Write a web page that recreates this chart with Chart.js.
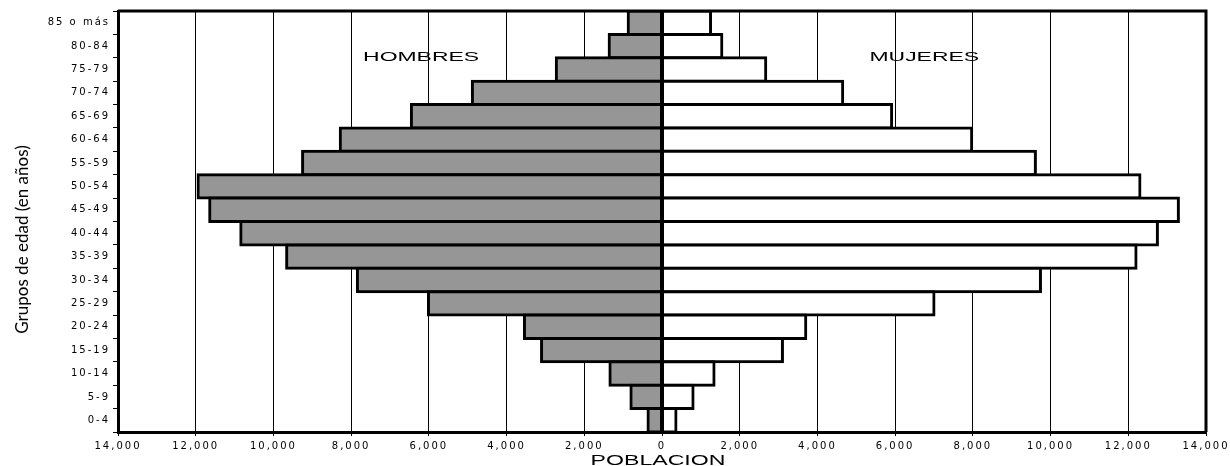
<!DOCTYPE html>
<html>
<head>
<meta charset="utf-8">
<script src="https://cdn.jsdelivr.net/npm/chart.js@4.4.0/dist/chart.umd.min.js"></script>
<style>
    html, body { margin: 0; padding: 0; background: #fff; }
    #wrap { width: 1230px; height: 466px; }
</style>
</head>
<body>
<div id="wrap"><canvas id="pyramidChart" width="1230" height="466"></canvas></div>
<script>
// Age groups, top row first
const ageGroups = ['85 o más', '80-84', '75-79', '70-74', '65-69', '60-64', '55-59', '50-54', '45-49',
    '40-44', '35-39', '30-34', '25-29', '20-24', '15-19', '10-14', '5-9', '0-4'];
const hombres = [870, 1360, 2720, 4880, 6450, 8280, 9250, 11940, 11640,
    10840, 9660, 7840, 6010, 3540, 3100, 1340, 800, 360];
const mujeres = [1250, 1540, 2670, 4650, 5910, 7970, 9610, 12300, 13290,
    12750, 12200, 9740, 7000, 3700, 3100, 1340, 800, 360];
const xTicks = { min: -14000, max: 14000, step: 2000 };

// Stretched text like the original spreadsheet font
function drawWide(ctx, text, x, y, size, stretch) {
    ctx.save();
    ctx.letterSpacing = '0px';
    ctx.font = size + 'px "Liberation Sans", Arial, sans-serif';
    ctx.fillStyle = '#000';
    ctx.textAlign = 'center';
    ctx.textBaseline = 'middle';
    ctx.translate(x, y);
    ctx.scale(stretch, 1);
    ctx.fillText(text, 0, 0);
    ctx.restore();
}

const frameAndTitles = {
    id: 'frameAndTitles',
    beforeDraw(chart) {
        chart.ctx.letterSpacing = '2px'; // wide tick labels
    },
    afterDatasetsDraw(chart) {
        const { ctx, chartArea } = chart;
        ctx.save();
        ctx.strokeStyle = '#000';
        ctx.lineWidth = 3;
        ctx.beginPath();
        ctx.moveTo(chartArea.left, chartArea.top);
        ctx.lineTo(chartArea.right, chartArea.top);
        ctx.lineTo(chartArea.right, chartArea.bottom);
        ctx.stroke();
        ctx.restore();
    },
    afterDraw(chart) {
        const { ctx, chartArea } = chart;
        const x = chart.scales.x;
        const y = chart.scales.y;
        ctx.letterSpacing = '0px';

        const labelY = (y.getPixelForValue(1) + y.getPixelForValue(2)) / 2;
        drawWide(ctx, 'HOMBRES', x.getPixelForValue(-6200), labelY, 13.5, 1.7);
        drawWide(ctx, 'MUJERES', x.getPixelForValue(6750), labelY, 13.5, 1.7);
        drawWide(ctx, 'POBLACION', (chartArea.left + chartArea.right) / 2 - 4, 461, 14, 1.65);

        // Y axis title
        ctx.save();
        ctx.font = '17px Lato, sans-serif';
        ctx.fillStyle = '#000';
        ctx.textAlign = 'center';
        ctx.textBaseline = 'middle';
        ctx.translate(23, (chartArea.top + chartArea.bottom) / 2 + 18);
        ctx.rotate(-Math.PI / 2);
        ctx.fillText('Grupos de edad (en años)', 0, 0);
        ctx.restore();
    }
};

document.addEventListener('DOMContentLoaded', function () {
    const ctx = document.getElementById('pyramidChart');
    new Chart(ctx, {
        type: 'bar',
        data: {
            labels: ageGroups,
            datasets: [{
                label: 'Hombres',
                data: hombres.map(v => -v),
                backgroundColor: '#969696',
                borderColor: '#000',
                borderWidth: 3,
                borderSkipped: false,
                inflateAmount: 1.5,
                barPercentage: 1,
                categoryPercentage: 1
            }, {
                label: 'Mujeres',
                data: mujeres,
                backgroundColor: '#ffffff',
                borderColor: '#000',
                borderWidth: 3,
                borderSkipped: false,
                inflateAmount: 1.5,
                barPercentage: 1,
                categoryPercentage: 1
            }]
        },
        options: {
            indexAxis: 'y',
            responsive: false,
            animation: false,
            layout: {
                padding: { left: 0, top: 11, right: 24, bottom: 0 }
            },
            plugins: {
                legend: { display: false },
                tooltip: { enabled: false }
            },
            scales: {
                x: {
                    stacked: true,
                    min: xTicks.min,
                    max: xTicks.max,
                    border: { display: true, color: '#000', width: 3 },
                    grid: {
                        display: true,
                        drawOnChartArea: true,
                        color: '#000000',
                        lineWidth: 1,
                        tickLength: 4,
                        tickColor: '#000000'
                    },
                    ticks: {
                        stepSize: xTicks.step,
                        maxRotation: 0,
                        autoSkip: false,
                        padding: 4,
                        color: '#000',
                        font: { family: 'DejaVu Sans', size: 10 },
                        callback: value => Math.abs(value).toLocaleString('en-US')
                    },
                    afterFit(scale) {
                        scale.height = 34;
                        scale.paddingLeft = 0;
                        scale.paddingRight = 0;
                    }
                },
                y: {
                    stacked: true,
                    border: { display: true, color: '#000', width: 3 },
                    grid: {
                        drawOnChartArea: false,
                        offset: true,
                        tickLength: 5,
                        tickColor: '#000000',
                        lineWidth: 1
                    },
                    ticks: {
                        padding: 3,
                        color: '#000',
                        font: { family: 'DejaVu Sans', size: 10 }
                    },
                    afterFit(scale) {
                        scale.width = 118;
                        scale.paddingTop = 0;
                        scale.paddingBottom = 0;
                    }
                }
            }
        },
        plugins: [frameAndTitles]
    });
});
</script>
</body>
</html>
